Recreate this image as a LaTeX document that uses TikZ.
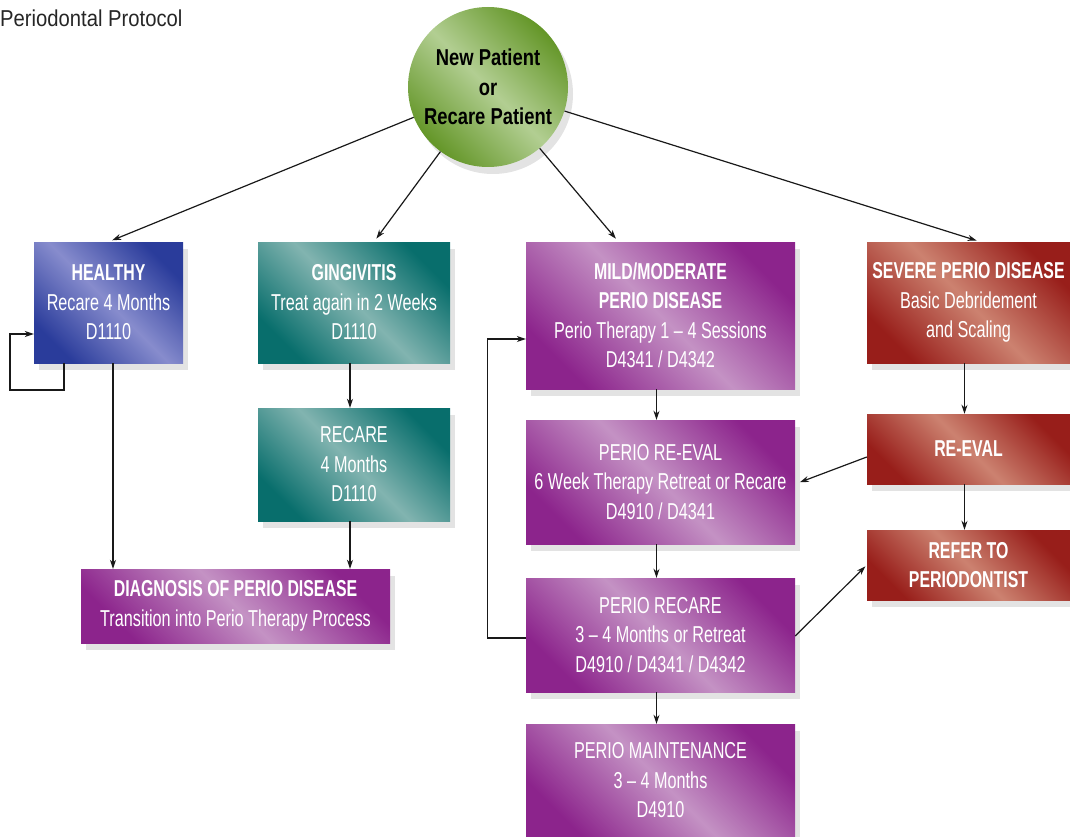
\documentclass[tikz,border=0pt]{standalone}
\usepackage{fontspec}
\setmainfont{Liberation Sans}[FakeStretch=0.705, BoldFeatures={FakeStretch=0.69}]
\newfontfamily\titlefont{Liberation Sans}[FakeStretch=0.88]
\newfontfamily\circfont{Liberation Sans}[FakeStretch=0.8]
\usepackage{tikz}
\usetikzlibrary{positioning,arrows.meta,shadows,calc}
\definecolor{healthblue}{RGB}{42,60,155}
\definecolor{healthlite}{RGB}{135,140,205}
\definecolor{gingteal}{RGB}{8,110,108}
\definecolor{gingtlite}{RGB}{130,180,176}
\definecolor{periopurp}{RGB}{140,36,140}
\definecolor{periolite}{RGB}{196,146,196}
\definecolor{severered}{RGB}{152,30,26}
\definecolor{severelite}{RGB}{204,130,112}
\definecolor{startgreen}{RGB}{100,150,40}
\definecolor{startlite}{RGB}{178,206,146}
\newcommand{\ttl}[1]{\textbf{#1}}
\tikzset{
  box/.style   ={rectangle, inner sep=0pt, align=center, text=white,
                 font=\fontsize{23}{29.5}\selectfont,
                 drop shadow={shadow xshift=5pt, shadow yshift=-7pt, opacity=0.11, fill=black}},
  healthy/.style={box, left color=healthblue, right color=healthblue, middle color=healthlite, shading angle=135},
  ging/.style  ={box, left color=gingteal, right color=gingteal, middle color=gingtlite, shading angle=135},
  perio/.style ={box, left color=periopurp, right color=periopurp, middle color=periolite, shading angle=135},
  severe/.style={box, left color=severered, right color=severered, middle color=severelite, shading angle=135},
  start/.style ={circle, inner sep=0pt, minimum size=160pt, align=center,
                 font=\circfont\fontsize{23}{29.5}\selectfont\bfseries,
                 left color=startgreen, right color=startgreen, middle color=startlite, shading angle=135,
                 drop shadow={shadow xshift=5pt, shadow yshift=-7pt, opacity=0.11, fill=black}},
  arr/.style   ={-{Stealth[length=9pt,width=6pt]}, line width=1.2pt, draw=black!90},
}
\begin{document}
\begin{tikzpicture}[x=1pt,y=-1pt]
\useasboundingbox (0,0) rectangle (1070,837);
\node[anchor=west, font=\titlefont\fontsize{23}{26}\selectfont, text=black!85, inner sep=0pt] (title) at (0,18) {Periodontal Protocol};

\node[start] (new) at (488,87) {New Patient\\ or\\ Recare Patient};

% first row
\node[healthy, minimum width=149pt, minimum height=121pt] (hl) at (108.5,302.5) {\ttl{HEALTHY}\\ Recare 4 Months\\ D1110};
\node[ging, minimum width=192pt, minimum height=121pt] (gg) at (354,302.5) {\ttl{GINGIVITIS}\\ Treat again in 2 Weeks\\ D1110};
\node[perio, minimum width=269pt, minimum height=147pt] (mm) at (660.5,315.5) {\ttl{MILD/MODERATE}\\ \ttl{PERIO DISEASE}\\ Perio Therapy 1 \textendash{} 4 Sessions\\ D4341 / D4342};
\node[severe, minimum width=203pt, minimum height=121pt] (sv) at (968.5,302.5) {\ttl{SEVERE PERIO DISEASE}\\ Basic Debridement\\ and Scaling};

% lower boxes
\node[ging, minimum width=192pt, minimum height=113pt] (rc) at (354,464.5) {RECARE\\ 4 Months\\ D1110};
\node[perio, minimum width=309pt, minimum height=74pt] (dg) at (235.5,606) {\ttl{DIAGNOSIS OF PERIO DISEASE}\\ Transition into Perio Therapy Process};
\node[perio, minimum width=269pt, minimum height=124pt] (re) at (660.5,482) {PERIO RE-EVAL\\ 6 Week Therapy Retreat or Recare\\ D4910 / D4341};
\node[perio, minimum width=269pt, minimum height=114pt] (pr) at (660.5,635) {PERIO RECARE\\ 3 \textendash{} 4 Months or Retreat\\ D4910 / D4341 / D4342};
\node[perio, minimum width=269pt, minimum height=113pt] (pm) at (660.5,780.5) {PERIO MAINTENANCE\\ 3 \textendash{} 4 Months\\ D4910};
\node[severe, minimum width=203pt, minimum height=70pt] (sr) at (968.5,449) {\ttl{RE-EVAL}};
\node[severe, minimum width=203pt, minimum height=70pt] (rf) at (968.5,565) {\ttl{REFER TO}\\ \ttl{PERIODONTIST}};

% from the start circle
\draw[arr, shorten >=4pt] (new) -- (hl.north);
\draw[arr, shorten >=4pt] (new) -- ([xshift=20pt]gg.north);
\draw[arr, shorten >=4pt] (new) -- ([xshift=-42pt]mm.north);
\draw[arr, shorten >=4pt] (new) -- ([xshift=12pt]sv.north);

% straight down
\foreach \x/\y in {gg/rc,mm/re,re/pr,pr/pm,sv/sr,sr/rf}
  \draw[arr] ([xshift=-4pt]\x.south) -- ([xshift=-4pt]\x.south |- \y.north);
\draw[arr] ([xshift=4.5pt]hl.south) -- ([xshift=4.5pt]hl.south |- dg.north);
\draw[arr] ([xshift=-4pt]rc.south) -- ([xshift=-4pt]rc.south |- dg.north);

% loops and side arrows
\draw[arr] ([xshift=-44.5pt]hl.south) |- (10,390) |- ([yshift=-31.5pt]hl.west);
\draw[arr] ([yshift=-3pt]pr.west) -- ++(-38,0) |- ([yshift=-23.5pt]mm.west);
\draw[arr, shorten >=5pt] ([yshift=-8pt]sr.west) -- ([yshift=-2pt]re.east);
\draw[arr, shorten >=2pt] ([yshift=-1pt]pr.east) -- (rf.west);
\end{tikzpicture}
\end{document}
